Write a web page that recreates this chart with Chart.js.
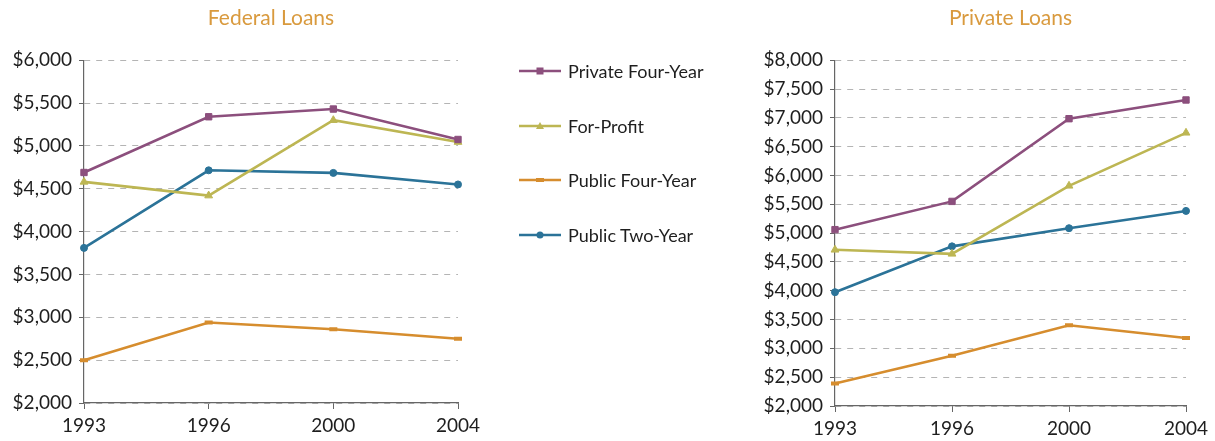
<!DOCTYPE html>
<html>
<head>
<meta charset="utf-8">
<script src="https://cdn.jsdelivr.net/npm/chart.js@4.4.1/dist/chart.umd.min.js"></script>
<style>
  html, body { margin: 0; padding: 0; background: #fff; overflow: hidden; width: 1215px; height: 441px; }
  #wrap { position: relative; width: 1215px; height: 441px; overflow: hidden; }
  .cv { position: absolute; top: 0; }
  #fedBox { left: 0px; width: 544px; height: 441px; }
  #privBox { left: 745px; width: 516px; height: 441px; }
  #legend { position: absolute; left: 519px; top: 0; z-index: 5; font-family: Lato, sans-serif; font-size: 18px; color: #1e1e1e; }
  .item { position: absolute; left: 0; height: 22px; white-space: nowrap; }
  .item svg { position: absolute; left: 0; top: 4px; }
  .item span { position: absolute; left: 49px; top: 0; line-height: 22px; }
</style>
</head>
<body>
<div id="wrap">
  <div class="cv" id="fedBox"><canvas id="fed"></canvas></div>
  <div class="cv" id="privBox"><canvas id="priv"></canvas></div>
  <div id="legend"></div>
</div>
<script>
// ---- data ----
const years = ['1993', '1996', '2000', '2004'];
const seriesNames = ['Private Four-Year', 'For-Profit', 'Public Four-Year', 'Public Two-Year'];

const fedPrivateFour = [4690, 5340, 5430, 5075];
const fedForProfit   = [4580, 4420, 5300, 5045];
const fedPublicFour  = [2500, 2940, 2860, 2750];
const fedPublicTwo   = [3810, 4715, 4685, 4550];

const privPrivateFour = [5060, 5550, 6985, 7310];
const privForProfit   = [4710, 4640, 5820, 6740];
const privPublicFour  = [2390, 2870, 3400, 3180];
const privPublicTwo   = [3975, 4770, 5085, 5385];

const fedRange = [2000, 6000];
const privRange = [2000, 8000];
const tickStep = 500;
const titles = ['Federal Loans', 'Private Loans'];

// ---- styles ----
const colors = ['#8c4f7d', '#bdb653', '#d68d2e', '#2b7398'];
const pointStyles = ['rect', 'triangle', 'line', 'circle'];
const pointRadii = [4.5, 4.5, 4, 3.5];
const pointBorders = [1, 1, 4, 1];
const FONT = 'Lato, sans-serif';

function makeDatasets(arrs) {
  return arrs.map((d, i) => ({
    label: seriesNames[i],
    data: d,
    borderColor: colors[i],
    backgroundColor: colors[i],
    borderWidth: 2.6,
    pointStyle: pointStyles[i],
    pointRadius: pointRadii[i],
    pointBorderWidth: pointBorders[i],
    pointBackgroundColor: colors[i],
    pointBorderColor: colors[i],
    tension: 0
  }));
}

function makeChart(id, arrs, range, yWidth, rightPad, xHeight, title) {
  return new Chart(document.getElementById(id), {
    type: 'line',
    data: { labels: years, datasets: makeDatasets(arrs) },
    options: {
      responsive: true,
      maintainAspectRatio: false,
      animation: false,
      layout: { padding: { left: 0, right: rightPad, top: 0, bottom: 0 } },
      plugins: {
        legend: { display: false },
        tooltip: { enabled: false },
        title: {
          display: true,
          fullSize: false,
          text: title,
          color: '#d99a3e',
          font: { family: FONT, size: 21, weight: 'normal' },
          padding: { top: 6, bottom: 29 }
        }
      },
      scales: {
        x: {
          type: 'category',
          offset: false,
          grid: { display: true, drawOnChartArea: false, drawTicks: true, tickLength: 6, tickColor: '#666', tickWidth: 1 },
          border: { display: true, color: '#666', width: 1.2 },
          ticks: { color: '#1e1e1e', font: { family: FONT, size: 19 }, padding: 5, maxRotation: 0 },
          afterFit: s => { s.height = xHeight; }
        },
        y: {
          min: range[0], max: range[1],
          grid: { color: '#b4b4b4', lineWidth: 1, drawTicks: true, tickLength: 5, tickColor: '#666', tickWidth: 1 },
          border: { display: true, color: '#666', width: 1.2, dash: [6, 6] },
          ticks: {
            stepSize: tickStep, color: '#1e1e1e', font: { family: FONT, size: 19 }, padding: 7,
            callback: v => '$' + Number(v).toLocaleString('en-US')
          },
          afterFit: s => { s.width = yWidth; }
        }
      }
    }
  });
}

makeChart('fed', [fedPrivateFour, fedForProfit, fedPublicFour, fedPublicTwo], fedRange, 84, 86, 38, titles[0]);
makeChart('priv', [privPrivateFour, privForProfit, privPublicFour, privPublicTwo], privRange, 90, 75, 35, titles[1]);

// ---- HTML legend ----
const legendTops = [60, 115, 169, 224];
const lg = document.getElementById('legend');
function markerSvg(i) {
  const c = colors[i];
  let m = '';
  if (pointStyles[i] === 'rect') m = `<rect x="17.5" y="3.5" width="7" height="7" fill="${c}"/>`;
  else if (pointStyles[i] === 'triangle') m = `<polygon points="21,3 25,10 17,10" fill="${c}"/>`;
  else if (pointStyles[i] === 'line') m = `<rect x="17" y="5" width="8" height="4" fill="${c}"/>`;
  else m = `<circle cx="21" cy="7" r="3.5" fill="${c}"/>`;
  return `<svg width="42" height="14"><line x1="0" y1="7" x2="42" y2="7" stroke="${c}" stroke-width="2.6"/>${m}</svg>`;
}
seriesNames.forEach((n, i) => {
  const d = document.createElement('div');
  d.className = 'item';
  d.style.top = legendTops[i] + 'px';
  d.innerHTML = markerSvg(i) + `<span>${n}</span>`;
  lg.appendChild(d);
});
</script>
</body>
</html>
